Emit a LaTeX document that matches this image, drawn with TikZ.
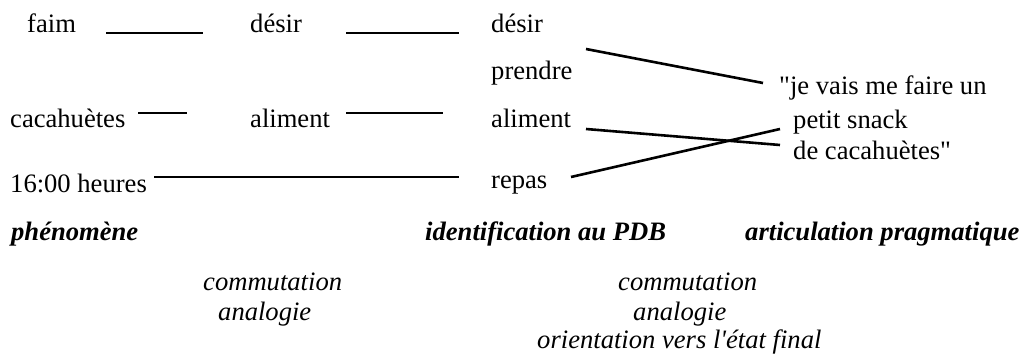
\documentclass[tikz,border=0pt]{standalone}
\usepackage{fontspec}
\setmainfont{Liberation Serif}[Ligatures=TeXOff]
\begin{document}
\begin{tikzpicture}[x=1pt,y=-1pt,
  lbl/.style={anchor=base west,inner sep=0pt,font=\fontsize{26.6}{32}\selectfont},
  head/.style={lbl,font=\fontsize{26.6}{32}\selectfont\bfseries\itshape},
  op/.style={lbl,font=\fontsize{26.6}{32}\selectfont\itshape},
  link/.style={line width=2.6pt}]
\useasboundingbox (0,0) rectangle (1024,358);
% column 1
\node[lbl] (faim) at (27,33) {faim};
\node[lbl] (cacah) at (10,128) {cacahuètes};
\node[lbl] (heure) at (10,192) {16:00 heures};
% column 2
\node[lbl] (desir2) at (250,33) {désir};
\node[lbl] (alim2) at (250,128) {aliment};
% column 3
\node[lbl] (desir3) at (491,33) {désir};
\node[lbl] (prend) at (491,80) {prendre};
\node[lbl] (alim3) at (491,128) {aliment};
\node[lbl] (repas) at (491,188) {repas};
% quote
\node[lbl] (q1) at (779,95) {"je vais me faire un};
\node[lbl] (q2) at (793,129) {petit snack};
\node[lbl] (q3) at (793,160) {de cacahuètes"};
% headers
\node[head] (h1) at (11,240) {phénomène};
\node[head] (h2) at (425,240) {identification au PDB};
\node[head] (h3) at (745,240) {articulation pragmatique};
% operations
\node[op] (c1) at (203,290) {commutation};
\node[op] (a1) at (218,320) {analogie};
\node[op] (c2) at (618,290) {commutation};
\node[op] (a2) at (633,320) {analogie};
\node[op] (o2) at (537,348) {orientation vers l'état final};
% connector ends
\coordinate (fa1) at (106,33); \coordinate (fa2) at (203,33);
\coordinate (de1) at (346,33); \coordinate (de2) at (459,33);
\coordinate (ca1) at (138,113); \coordinate (ca2) at (187,113);
\coordinate (al1) at (346,113); \coordinate (al2) at (443,113);
\coordinate (he1) at (154,177); \coordinate (he2) at (459,177);
\coordinate (r1) at (586,49); \coordinate (r1e) at (763,83);
\coordinate (r2) at (586,129); \coordinate (r2e) at (780,145);
\coordinate (r3) at (571,177); \coordinate (r3e) at (780,129);
\draw[link] (fa1) -- (fa2);
\draw[link] (de1) -- (de2);
\draw[link] (ca1) -- (ca2);
\draw[link] (al1) -- (al2);
\draw[link] (he1) -- (he2);
\draw[link] (r1) -- (r1e);
\draw[link] (r2) -- (r2e);
\draw[link] (r3) -- (r3e);
\end{tikzpicture}
\end{document}
